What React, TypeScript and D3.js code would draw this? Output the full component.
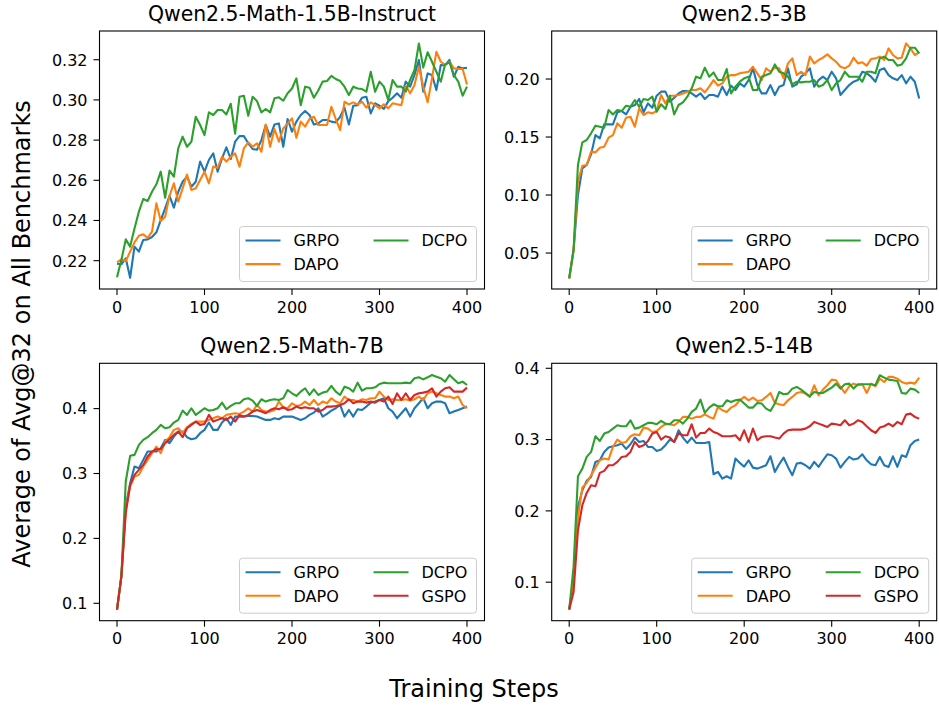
import React from "react";
import * as d3 from "d3";

// ---------- data ----------
const STEPS: number[] = d3.range(0, 401, 5);
const SERIES_NAMES = ["GRPO", "DAPO", "DCPO", "GSPO"];
const SERIES_COLORS = ["#1f77b4", "#ff7f0e", "#2ca02c", "#d62728"];
const PANEL_TITLES = ["Qwen2.5-Math-1.5B-Instruct", "Qwen2.5-3B", "Qwen2.5-Math-7B", "Qwen2.5-14B"];
const X_TICKS = [0, 100, 200, 300, 400];

// Qwen2.5-Math-1.5B-Instruct
const M15_GRPO = [0.2185,0.2182,0.2212,0.2115,0.227,0.2245,0.2303,0.2306,0.2318,0.2341,0.2402,0.246,0.2523,0.2464,0.2543,0.2593,0.2618,0.2568,0.2593,0.2693,0.2643,0.2701,0.2734,0.2643,0.2709,0.2764,0.2706,0.2792,0.282,0.282,0.2784,0.2756,0.2752,0.28,0.2875,0.2817,0.2878,0.2883,0.2767,0.2905,0.2842,
0.2892,0.2925,0.2945,0.2925,0.2878,0.2883,0.29,0.29,0.2892,0.2888,0.2916,0.2961,0.2878,0.2971,0.2974,0.3011,0.3016,0.2933,0.2983,0.2971,0.2955,0.2994,0.3011,0.3033,0.3011,0.3091,0.3066,0.3124,0.3199,0.3041,0.3132,0.3124,0.3049,0.3173,0.3173,0.3199,0.3115,0.3165,0.3157,0.316];
const M15_DAPO = [0.2192,0.2207,0.2198,0.2245,0.2291,0.2324,0.2331,0.2314,0.2344,0.2485,0.2397,0.2419,0.2523,0.2585,0.2494,0.256,0.2629,0.2552,0.256,0.2601,0.2643,0.2585,0.2668,0.2663,0.2717,0.2693,0.2717,0.2734,0.2668,0.2759,0.2789,0.2767,0.2784,0.2742,0.2878,0.2767,0.2855,0.2792,0.2858,0.2883,0.2908,
0.2812,0.2892,0.2867,0.2905,0.2916,0.2875,0.2875,0.2875,0.2966,0.2905,0.285,0.2991,0.2978,0.2988,0.2978,0.2991,0.2961,0.2988,0.2974,0.2958,0.2978,0.2958,0.2983,0.2978,0.2974,0.3071,0.3033,0.3074,0.3165,0.3066,0.2988,0.3107,0.324,0.319,0.3173,0.319,0.3157,0.3154,0.3154,0.3077];
const M15_DCPO = [0.2117,0.2203,0.2306,0.227,0.236,0.2444,0.2507,0.2497,0.2543,0.258,0.2643,0.2513,0.2648,0.2618,0.2759,0.2817,0.2767,0.2792,0.2916,0.2875,0.2825,0.2938,0.2925,0.295,0.295,0.2928,0.2981,0.2832,0.3016,0.3021,0.2921,0.3016,0.2994,0.2938,0.2955,0.2938,0.3008,0.3013,0.2996,0.3033,0.3057,
0.3107,0.2974,0.3066,0.3061,0.3011,0.3047,0.3091,0.3094,0.312,0.3104,0.3094,0.3066,0.3024,0.3066,0.3057,0.3054,0.3041,0.314,0.3041,0.3091,0.3066,0.3,0.3099,0.3066,0.3066,0.3041,0.3099,0.3149,0.3281,0.3161,0.3237,0.319,0.314,0.3091,0.3177,0.3187,0.3124,0.3091,0.3021,0.3066];

// Qwen2.5-3B
const B3_GRPO = [0.0282,0.0526,0.1,0.123,0.1259,0.135,0.1517,0.1489,0.1609,0.1609,0.1609,0.1713,0.1724,0.1695,0.1761,0.1776,0.1828,0.1713,0.179,0.1753,0.1856,0.1891,0.1891,0.1805,0.1839,0.1876,0.1897,0.1897,0.1876,0.1848,0.1876,0.1828,0.1862,0.1862,0.1848,0.1934,0.1862,0.1943,0.1905,0.1963,0.1934,
0.1991,0.2092,0.1948,0.1876,0.1876,0.1948,0.1862,0.1934,0.1948,0.2092,0.1934,0.1954,0.202,0.2049,0.2092,0.1934,0.1991,0.202,0.1991,0.2063,0.2006,0.1862,0.1905,0.1948,0.1977,0.1991,0.2063,0.2049,0.202,0.1977,0.2078,0.2092,0.2034,0.2006,0.1991,0.2034,0.1963,0.202,0.1977,0.1833];
const B3_DAPO = [0.0282,0.0526,0.1115,0.1253,0.1259,0.1374,0.1368,0.1408,0.1417,0.1494,0.1517,0.1618,0.158,0.1667,0.1675,0.1589,0.1747,0.169,0.1713,0.1704,0.1724,0.1862,0.179,0.1856,0.1856,0.1862,0.1876,0.1891,0.1905,0.1905,0.192,0.1885,0.1934,0.1991,0.1943,0.1963,0.202,0.2034,0.2034,0.2049,0.2057,
0.2063,0.2106,0.2049,0.1991,0.2092,0.2063,0.2098,0.2092,0.2006,0.2135,0.2178,0.2034,0.2063,0.2034,0.2193,0.2135,0.2164,0.2184,0.2213,0.2178,0.2149,0.2106,0.2092,0.2115,0.2184,0.2135,0.2144,0.2115,0.2172,0.2178,0.2193,0.2164,0.2264,0.2207,0.2178,0.2184,0.2307,0.2264,0.2207,0.223];
const B3_DCPO = [0.0282,0.0526,0.1259,0.1454,0.1474,0.1532,0.1598,0.1589,0.158,0.1733,0.1695,0.1733,0.1724,0.177,0.1761,0.1819,0.1761,0.1828,0.1819,0.1848,0.1718,0.1782,0.1741,0.1856,0.1695,0.1776,0.1799,0.1848,0.192,0.202,0.2006,0.2098,0.202,0.2057,0.1991,0.1991,0.2086,0.1876,0.1934,0.1977,0.2006,
0.202,0.1905,0.1905,0.202,0.2034,0.2049,0.2126,0.2063,0.2049,0.202,0.1954,0.1977,0.1971,0.1977,0.1977,0.1991,0.1934,0.1948,0.1991,0.1905,0.1963,0.1991,0.2063,0.202,0.202,0.202,0.1977,0.2063,0.2063,0.2049,0.2178,0.2193,0.2164,0.2164,0.2115,0.2126,0.2178,0.227,0.227,0.2221];

// Qwen2.5-Math-7B
const M7_GRPO = [0.0903,0.1415,0.2492,0.2851,0.3108,0.3082,0.321,0.3338,0.3338,0.3338,0.339,0.3518,0.3467,0.3569,0.3646,0.3646,0.3559,0.3528,0.3544,0.3621,0.3672,0.3785,0.3672,0.3672,0.3785,0.3851,0.3749,0.3877,0.3877,0.3877,0.3887,0.3887,0.3877,0.3851,0.3826,0.3826,0.3851,0.3836,0.3877,0.3877,0.3877,
0.3851,0.3826,0.3851,0.3903,0.3938,0.4005,0.3877,0.3918,0.3969,0.4005,0.4056,0.3877,0.3979,0.3877,0.399,0.3979,0.4031,0.4092,0.4108,0.4133,0.4159,0.4005,0.3954,0.3851,0.3928,0.4005,0.3877,0.4005,0.4082,0.4159,0.4005,0.4082,0.4108,0.4108,0.4082,0.3928,0.3954,0.3979,0.4005,0.4031];
const M7_DAPO = [0.0903,0.1415,0.2441,0.28,0.2954,0.2979,0.3108,0.321,0.3313,0.3415,0.3313,0.3492,0.3559,0.3672,0.3697,0.3621,0.3713,0.3764,0.38,0.38,0.38,0.3826,0.3851,0.3877,0.3851,0.3903,0.3918,0.3928,0.3918,0.3954,0.4005,0.3954,0.4056,0.3979,0.3954,0.3954,0.3979,0.4108,0.4021,0.4005,0.4082,
0.4041,0.4056,0.4108,0.4056,0.4133,0.4056,0.4108,0.4082,0.4159,0.4108,0.4082,0.4185,0.4133,0.4133,0.4108,0.4144,0.4133,0.4159,0.4159,0.4262,0.4185,0.4133,0.4144,0.4133,0.4133,0.4144,0.4123,0.4144,0.4185,0.4133,0.4236,0.4262,0.4236,0.421,0.4185,0.4185,0.4159,0.4185,0.4056,0.4005];
const M7_DCPO = [0.0903,0.1415,0.2877,0.3272,0.3287,0.3441,0.3518,0.3559,0.3621,0.3672,0.3749,0.3697,0.3713,0.3785,0.3826,0.3969,0.3903,0.4005,0.3903,0.3954,0.4005,0.3969,0.3979,0.4005,0.4092,0.399,0.4041,0.4082,0.4082,0.4144,0.4159,0.4123,0.4041,0.4144,0.4108,0.4133,0.4144,0.4133,0.4159,0.4287,0.4236,
0.4195,0.4262,0.4313,0.421,0.4297,0.421,0.4246,0.4262,0.4349,0.4262,0.421,0.4338,0.4313,0.4262,0.44,0.4277,0.4313,0.4313,0.4328,0.4379,0.44,0.439,0.439,0.439,0.439,0.44,0.439,0.4467,0.4482,0.4451,0.4482,0.4518,0.4492,0.4467,0.4415,0.4518,0.4451,0.439,0.4415,0.4364];
const M7_GSPO = [0.0903,0.1415,0.239,0.2826,0.2979,0.3056,0.3133,0.3262,0.3338,0.3374,0.3374,0.3467,0.3528,0.3595,0.3646,0.3559,0.3697,0.3749,0.38,0.3749,0.3764,0.3903,0.38,0.3826,0.3851,0.3826,0.3877,0.38,0.3903,0.3877,0.3903,0.3954,0.3979,0.3954,0.3928,0.3979,0.4005,0.399,0.4021,0.3979,0.399,
0.4031,0.4005,0.4021,0.4005,0.4005,0.3954,0.3979,0.4031,0.4031,0.4041,0.4056,0.4082,0.4144,0.4082,0.4108,0.4108,0.4092,0.4108,0.4092,0.4133,0.4108,0.4185,0.4072,0.4236,0.4133,0.4236,0.4133,0.421,0.4236,0.4246,0.4262,0.4313,0.4185,0.4262,0.4313,0.4328,0.4262,0.4262,0.4262,0.4323];

// Qwen2.5-14B
const B14_GRPO = [0.0617,0.0981,0.2056,0.229,0.2421,0.2477,0.2687,0.271,0.2827,0.2888,0.2907,0.2921,0.2944,0.2869,0.2935,0.3028,0.2967,0.2981,0.2897,0.2897,0.2841,0.286,0.2921,0.3,0.2967,0.3131,0.3028,0.2953,0.3028,0.2953,0.2953,0.2953,0.2967,0.2514,0.2547,0.2453,0.2486,0.2453,0.2734,0.2673,0.262,
0.271,0.2607,0.2593,0.2617,0.264,0.2766,0.2547,0.2654,0.2748,0.2617,0.25,0.2664,0.2673,0.264,0.2593,0.2687,0.2617,0.271,0.2794,0.278,0.2734,0.2607,0.2687,0.2757,0.272,0.2734,0.2794,0.271,0.2654,0.264,0.2757,0.264,0.2617,0.2766,0.2617,0.278,0.2757,0.2921,0.2981,0.3];
const B14_DAPO = [0.0617,0.1028,0.1916,0.2327,0.2393,0.25,0.2607,0.271,0.2734,0.272,0.2897,0.3,0.2953,0.2967,0.3047,0.3075,0.3061,0.3168,0.3154,0.3107,0.3121,0.3178,0.3215,0.3215,0.3201,0.3248,0.3318,0.3318,0.3294,0.3318,0.3318,0.3355,0.3318,0.3294,0.3458,0.3411,0.3388,0.3449,0.3481,0.3551,0.3598,
0.3551,0.3589,0.3542,0.3551,0.3598,0.3654,0.3514,0.3495,0.3481,0.3551,0.3598,0.3654,0.3668,0.3645,0.3598,0.3762,0.3621,0.3701,0.3762,0.3841,0.3832,0.3738,0.3654,0.3748,0.3785,0.3762,0.3776,0.3654,0.3785,0.3748,0.3855,0.3808,0.3879,0.3879,0.3855,0.3808,0.3785,0.3799,0.3785,0.3869];
const B14_DCPO = [0.0617,0.1215,0.2486,0.2593,0.2757,0.2827,0.3047,0.2981,0.3084,0.3107,0.3154,0.3201,0.3187,0.3187,0.3271,0.3154,0.3168,0.3201,0.3234,0.3234,0.3215,0.3262,0.3224,0.3215,0.3271,0.3271,0.3224,0.3294,0.3388,0.3435,0.3561,0.3374,0.3449,0.3495,0.3467,0.3467,0.3551,0.3528,0.3551,0.3561,0.3505,
0.3449,0.3449,0.3514,0.3505,0.3435,0.3402,0.3505,0.3668,0.3636,0.3645,0.3715,0.3738,0.3701,0.3654,0.3607,0.3668,0.3654,0.3654,0.3692,0.3729,0.3785,0.3715,0.3776,0.3785,0.3715,0.3776,0.3776,0.3776,0.3776,0.3762,0.3902,0.3869,0.3841,0.3832,0.3822,0.3654,0.3645,0.3715,0.3701,0.3654];
const B14_GSPO = [0.0617,0.0864,0.1729,0.2079,0.2252,0.236,0.2346,0.2533,0.2561,0.264,0.264,0.2687,0.2757,0.2766,0.2827,0.2967,0.2897,0.2921,0.2981,0.3084,0.3107,0.3,0.3047,0.3028,0.2967,0.3084,0.3061,0.3061,0.3215,0.3028,0.3093,0.3093,0.3154,0.3107,0.3084,0.3047,0.3047,0.3047,0.3061,0.2991,0.3131,
0.2967,0.3154,0.2991,0.3037,0.3047,0.3047,0.3028,0.3014,0.3084,0.3131,0.314,0.314,0.314,0.3154,0.3187,0.3248,0.3224,0.3201,0.3178,0.3224,0.3215,0.3201,0.3271,0.3201,0.3224,0.3271,0.3248,0.3187,0.3131,0.3093,0.3168,0.3187,0.3224,0.3187,0.3248,0.3215,0.335,0.3364,0.3318,0.3294];

const M15_YTICKS = [0.22, 0.24, 0.26, 0.28, 0.3, 0.32];
const B3_YTICKS = [0.05, 0.1, 0.15, 0.2];
const M7_YTICKS = [0.1, 0.2, 0.3, 0.4];
const B14_YTICKS = [0.1, 0.2, 0.3, 0.4];

// ---------- layout ----------
const W = 939, H = 709;
const FONT = "DejaVu Sans, sans-serif";
const COL_X = [[99.5, 484.5], [551.7, 936.7]];
const ROW_Y = [[31, 289], [363.3, 620.7]];
const PANELS = [
  { title: PANEL_TITLES[0], series: [M15_GRPO, M15_DAPO, M15_DCPO], yDomain: [0.2059, 0.3343], yTicks: M15_YTICKS, fmt: ".2f", col: 0, row: 0 },
  { title: PANEL_TITLES[1], series: [B3_GRPO, B3_DAPO, B3_DCPO], yDomain: [0.019, 0.2414], yTicks: B3_YTICKS, fmt: ".2f", col: 1, row: 0 },
  { title: PANEL_TITLES[2], series: [M7_GRPO, M7_DAPO, M7_DCPO, M7_GSPO], yDomain: [0.0732, 0.4698], yTicks: M7_YTICKS, fmt: ".1f", col: 0, row: 1 },
  { title: PANEL_TITLES[3], series: [B14_GRPO, B14_DAPO, B14_DCPO, B14_GSPO], yDomain: [0.046, 0.407], yTicks: B14_YTICKS, fmt: ".1f", col: 1, row: 1 },
];

const TICK_FS = 16;
const TITLE_FS = 20.4;
const LABEL_FS = 24;
const CAP = 0.729;

function Panel({ p }: { p: typeof PANELS[number] }) {
  const [x0, x1] = COL_X[p.col];
  const [y0, y1] = ROW_Y[p.row];
  const x = d3.scaleLinear().domain([-20, 420]).range([x0, x1]);
  const y = d3.scaleLinear().domain(p.yDomain).range([y1, y0]);
  const line = d3.line<number>().x((_, i) => x(STEPS[i])).y((d) => y(d));
  const fmt = d3.format(p.fmt);
  const tickLen = 6;
  const pad = 6;

  // legend
  const lw = 237, lh = 55;
  const lx = x1 - 8 - lw;
  const ly = y1 - 7.5 - lh;
  const rows = [ly + 14, ly + 37.6];
  const entries = p.series.map((_, i) => ({
    name: SERIES_NAMES[i],
    color: SERIES_COLORS[i],
    col: Math.floor(i / 2),
    row: i % 2,
  }));

  return (
    <g>
      <text x={(x0 + x1) / 2} y={y0 - 10} fontSize={TITLE_FS} textAnchor="middle" fontFamily={FONT} fill="#000">
        {p.title}
      </text>
      <defs>
        <clipPath id={`clip-${p.col}-${p.row}`}>
          <rect x={x0} y={y0} width={x1 - x0} height={y1 - y0} />
        </clipPath>
      </defs>
      <g clipPath={`url(#clip-${p.col}-${p.row})`}>
        {p.series.map((s, i) => (
          <path key={i} d={line(s) || ""} fill="none" stroke={SERIES_COLORS[i]} strokeWidth={2.1} strokeLinejoin="round" strokeLinecap="butt" />
        ))}
      </g>
      {/* legend */}
      <rect x={lx} y={ly} width={lw} height={lh} rx={3} fill="#fff" fillOpacity={0.8} stroke="#cccccc" strokeWidth={1} />
      {entries.map((e) => {
        const hx = lx + (e.col === 0 ? 6 : 134);
        const cy = rows[e.row];
        return (
          <g key={e.name}>
            <line x1={hx} x2={hx + 35} y1={cy} y2={cy} stroke={e.color} strokeWidth={2.1} />
            <text x={hx + 48} y={cy + TICK_FS * CAP / 2} fontSize={TICK_FS} fontFamily={FONT} fill="#000">
              {e.name}
            </text>
          </g>
        );
      })}
      {/* frame */}
      <rect x={x0} y={y0} width={x1 - x0} height={y1 - y0} fill="none" stroke="#000" strokeWidth={1.1} />
      {/* x ticks */}
      {X_TICKS.map((t) => (
        <g key={`x${t}`}>
          <line x1={x(t)} x2={x(t)} y1={y1} y2={y1 + tickLen} stroke="#000" strokeWidth={1.1} />
          <text x={x(t)} y={y1 + tickLen + pad + TICK_FS * CAP} fontSize={TICK_FS} textAnchor="middle" fontFamily={FONT} fill="#000">
            {t}
          </text>
        </g>
      ))}
      {/* y ticks */}
      {p.yTicks.map((t) => (
        <g key={`y${t}`}>
          <line x1={x0 - tickLen} x2={x0} y1={y(t)} y2={y(t)} stroke="#000" strokeWidth={1.1} />
          <text x={x0 - tickLen - pad} y={y(t) + TICK_FS * CAP / 2} fontSize={TICK_FS} textAnchor="end" fontFamily={FONT} fill="#000">
            {fmt(t)}
          </text>
        </g>
      ))}
    </g>
  );
}

export default function App() {
  return (
    <svg width={W} height={H} viewBox={`0 0 ${W} ${H}`} style={{ position: "absolute", left: 0, top: 0, background: "#fff" }}>
      <rect x={0} y={0} width={W} height={H} fill="#fff" />
      {PANELS.map((p, i) => (
        <Panel key={i} p={p} />
      ))}
      <text
        transform={`translate(22, 334) rotate(-90)`}
        fontSize={LABEL_FS}
        textAnchor="middle"
        dominantBaseline="central"
        fontFamily={FONT}
        fill="#000"
      >
        Average of Avg@32 on All Benchmarks
      </text>
      <text x={474} y={697} fontSize={LABEL_FS} textAnchor="middle" fontFamily={FONT} fill="#000">
        Training Steps
      </text>
    </svg>
  );
}
